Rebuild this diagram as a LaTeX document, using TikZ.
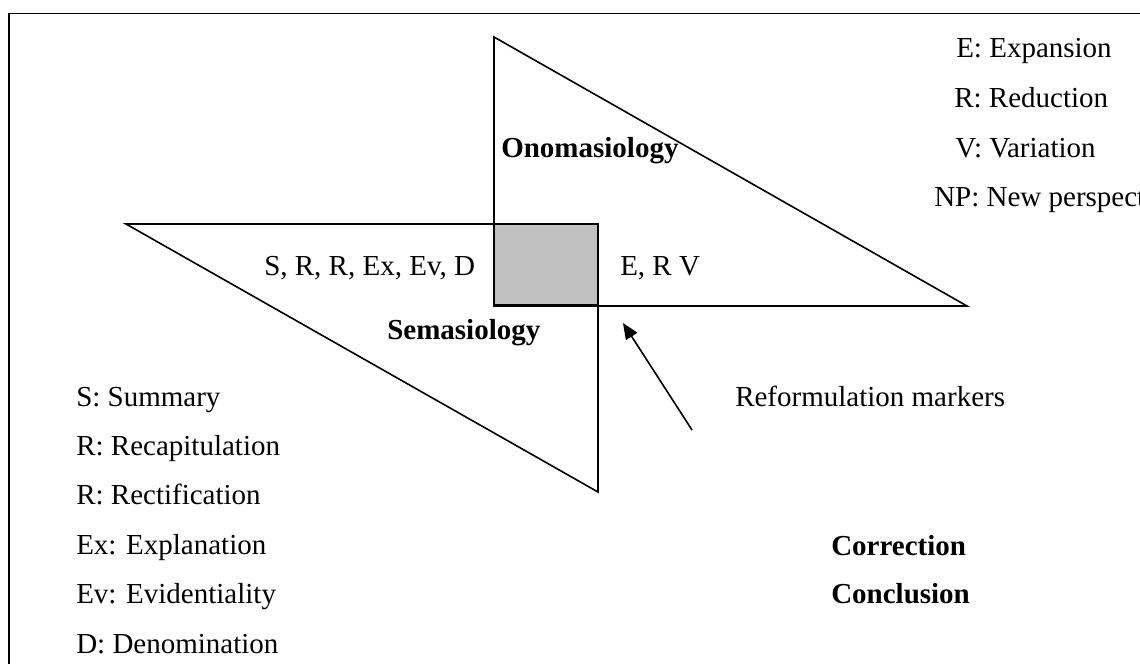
\documentclass[tikz,border=0pt]{standalone}
\usepackage{fontspec}
\setmainfont{Liberation Serif}
\usetikzlibrary{arrows.meta}
\begin{document}
\begin{tikzpicture}[x=0.75pt,y=-0.75pt,
  txt/.style={anchor=base west,inner sep=0pt,font=\fontsize{21.75}{26}\selectfont},
  btxt/.style={txt,font=\fontsize{21.75}{26}\selectfont\bfseries},
  tri/.style={draw=black,line width=1.2pt,line join=miter},
  core/.style={draw=black,fill={rgb,255:red,192;green,192;blue,192},line width=1.5pt},
  frameline/.style={draw=black,line width=1.1pt},
  pointer/.style={draw=black,line width=1.2pt,-{Triangle[length=12pt,width=10pt]}}]
\useasboundingbox (0,0) rectangle (1140,664);
\clip (0,0) rectangle (1140,664);

% frame (only top and left edges fall inside the page)
\draw[frameline] (1150,13.5) -- (9,13.5) -- (9,680);

% the two triangles and their shared square
\draw[tri] (494,37) -- (967,306) -- (494,306) -- cycle;
\draw[tri] (126,224) -- (598,224) -- (598,492) -- cycle;
\draw[core] (494,224) rectangle (598,305);

% labels inside the figure
\node[btxt] (ono) at (501,157) {Onomasiology};
\node[btxt] (sema) at (387,339) {Semasiology};
\node[txt] (semlist) at (264,275) {S, R, R, Ex, Ev, D};
\node[txt] (onolist) at (620,275) {E, R V};

% onomasiological functions
\node[txt] (exp) at (956,57) {E: Expansion};
\node[txt] (red) at (954,107) {R: Reduction};
\node[txt] (var) at (955,157) {V: Variation};
\node[txt] (np) at (934,206) {NP: New perspective};

% semasiological functions
\node[txt] (sum) at (76,406) {S: Summary};
\node[txt] (rec) at (76,455) {R: Recapitulation};
\node[txt] (rect) at (76,504) {R: Rectification};
\node[txt] (expl) at (76,554) {Ex: Explanation};
\node[txt] (evid) at (76,603) {Ev: Evidentiality};
\node[txt] (den) at (76,653) {D: Denomination};

% markers
\node[txt] (markers) at (735,406) {Reformulation markers};
\node[btxt] (corr) at (831,555) {Correction};
\node[btxt] (concl) at (831,603) {Conclusion};

\coordinate (tail) at (692,430);
\coordinate (target) at (623,323);
\draw[pointer] (tail) -- (target);
\end{tikzpicture}
\end{document}
